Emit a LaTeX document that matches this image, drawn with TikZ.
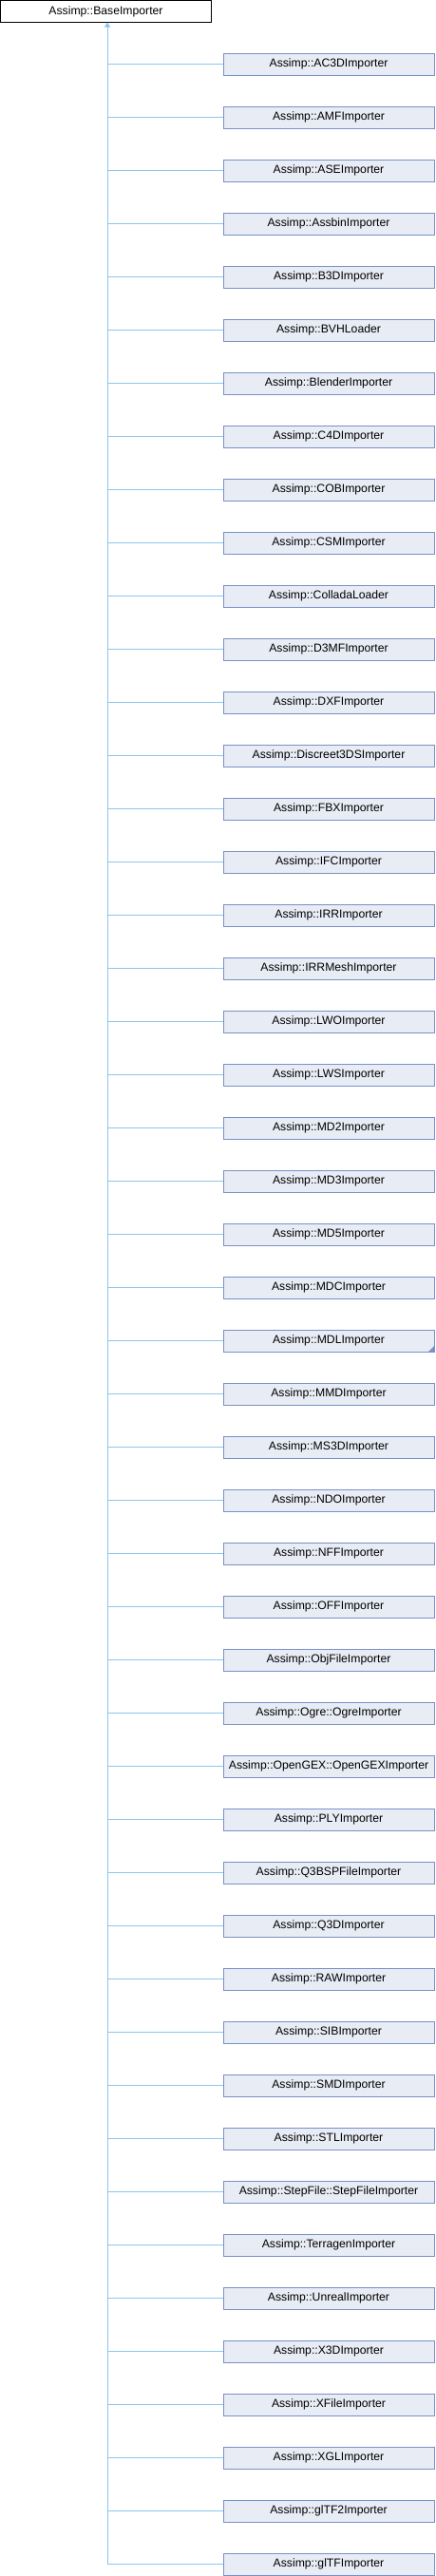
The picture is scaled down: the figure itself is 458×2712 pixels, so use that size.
\documentclass[tikz,border=0pt]{standalone}
\usepackage{fontspec}
\setmainfont{Liberation Sans}
\usetikzlibrary{positioning,arrows.meta}
\definecolor{classfill}{HTML}{E8ECF5}
\definecolor{classline}{HTML}{7A90C8}
\definecolor{inherit}{HTML}{8EC6EA}
\begin{document}
\begin{tikzpicture}[
            x=1pt,y=-1pt,
            base/.style={draw=black,fill=white,line width=1pt,minimum width=222pt,minimum height=23pt,inner sep=0pt,outer sep=0pt,font=\fontsize{12.2}{14}\selectfont},
            derived/.style={draw=classline,fill=classfill,line width=1pt,minimum width=222pt,minimum height=23pt,inner sep=0pt,outer sep=0pt,font=\fontsize{12.2}{14}\selectfont},
            next/.style={below=33pt of #1},
            link/.style={draw=inherit,line width=1pt}
        ]
        \useasboundingbox (0,0) rectangle (458,2712);
        \node[base] (baseimp) at (111.5,12) {Assimp::BaseImporter};
        \coordinate (trunk) at (113,0);
        % derived importers, one below the other
        \node[derived] (ac3d) at (346,67.5) {Assimp::AC3DImporter};
        \node[derived,next=ac3d] (amf) {Assimp::AMFImporter};
        \node[derived,next=amf] (ase) {Assimp::ASEImporter};
        \node[derived,next=ase] (assbin) {Assimp::AssbinImporter};
        \node[derived,next=assbin] (b3d) {Assimp::B3DImporter};
        \node[derived,next=b3d] (bvh) {Assimp::BVHLoader};
        \node[derived,next=bvh] (blender) {Assimp::BlenderImporter};
        \node[derived,next=blender] (c4d) {Assimp::C4DImporter};
        \node[derived,next=c4d] (cob) {Assimp::COBImporter};
        \node[derived,next=cob] (csm) {Assimp::CSMImporter};
        \node[derived,next=csm] (collada) {Assimp::ColladaLoader};
        \node[derived,next=collada] (d3mf) {Assimp::D3MFImporter};
        \node[derived,next=d3mf] (dxf) {Assimp::DXFImporter};
        \node[derived,next=dxf] (discreet) {Assimp::Discreet3DSImporter};
        \node[derived,next=discreet] (fbx) {Assimp::FBXImporter};
        \node[derived,next=fbx] (ifc) {Assimp::IFCImporter};
        \node[derived,next=ifc] (irr) {Assimp::IRRImporter};
        \node[derived,next=irr] (irrmesh) {Assimp::IRRMeshImporter};
        \node[derived,next=irrmesh] (lwo) {Assimp::LWOImporter};
        \node[derived,next=lwo] (lws) {Assimp::LWSImporter};
        \node[derived,next=lws] (md2) {Assimp::MD2Importer};
        \node[derived,next=md2] (md3) {Assimp::MD3Importer};
        \node[derived,next=md3] (md5) {Assimp::MD5Importer};
        \node[derived,next=md5] (mdc) {Assimp::MDCImporter};
        \node[derived,next=mdc] (mdl) {Assimp::MDLImporter};
        \node[derived,next=mdl] (mmd) {Assimp::MMDImporter};
        \node[derived,next=mmd] (ms3d) {Assimp::MS3DImporter};
        \node[derived,next=ms3d] (ndo) {Assimp::NDOImporter};
        \node[derived,next=ndo] (nff) {Assimp::NFFImporter};
        \node[derived,next=nff] (off) {Assimp::OFFImporter};
        \node[derived,next=off] (objfile) {Assimp::ObjFileImporter};
        \node[derived,next=objfile] (ogre) {Assimp::Ogre::OgreImporter};
        \node[derived,next=ogre] (opengex) {Assimp::OpenGEX::OpenGEXImporter};
        \node[derived,next=opengex] (ply) {Assimp::PLYImporter};
        \node[derived,next=ply] (q3bsp) {Assimp::Q3BSPFileImporter};
        \node[derived,next=q3bsp] (q3d) {Assimp::Q3DImporter};
        \node[derived,next=q3d] (raw) {Assimp::RAWImporter};
        \node[derived,next=raw] (sib) {Assimp::SIBImporter};
        \node[derived,next=sib] (smd) {Assimp::SMDImporter};
        \node[derived,next=smd] (stl) {Assimp::STLImporter};
        \node[derived,next=stl] (stepfile) {Assimp::StepFile::StepFileImporter};
        \node[derived,next=stepfile] (terragen) {Assimp::TerragenImporter};
        \node[derived,next=terragen] (unreal) {Assimp::UnrealImporter};
        \node[derived,next=unreal] (x3d) {Assimp::X3DImporter};
        \node[derived,next=x3d] (xfile) {Assimp::XFileImporter};
        \node[derived,next=xfile] (xgl) {Assimp::XGLImporter};
        \node[derived,next=xgl] (gltf2) {Assimp::glTF2Importer};
        \node[derived,next=gltf2] (gltf) {Assimp::glTFImporter};
        % marker in the corner of the MDL box
        \fill[classline] (mdl.south east) -- ++(0,-6) -- ++(-6,6) -- cycle;
        % inheritance lines
        \draw[link,-{Triangle[width=6pt,length=5pt]}] (trunk |- gltf.west) -- (trunk |- baseimp.south);
        \draw[link] (trunk |- ac3d.west) -- (ac3d.west);
        \draw[link] (trunk |- amf.west) -- (amf.west);
        \draw[link] (trunk |- ase.west) -- (ase.west);
        \draw[link] (trunk |- assbin.west) -- (assbin.west);
        \draw[link] (trunk |- b3d.west) -- (b3d.west);
        \draw[link] (trunk |- bvh.west) -- (bvh.west);
        \draw[link] (trunk |- blender.west) -- (blender.west);
        \draw[link] (trunk |- c4d.west) -- (c4d.west);
        \draw[link] (trunk |- cob.west) -- (cob.west);
        \draw[link] (trunk |- csm.west) -- (csm.west);
        \draw[link] (trunk |- collada.west) -- (collada.west);
        \draw[link] (trunk |- d3mf.west) -- (d3mf.west);
        \draw[link] (trunk |- dxf.west) -- (dxf.west);
        \draw[link] (trunk |- discreet.west) -- (discreet.west);
        \draw[link] (trunk |- fbx.west) -- (fbx.west);
        \draw[link] (trunk |- ifc.west) -- (ifc.west);
        \draw[link] (trunk |- irr.west) -- (irr.west);
        \draw[link] (trunk |- irrmesh.west) -- (irrmesh.west);
        \draw[link] (trunk |- lwo.west) -- (lwo.west);
        \draw[link] (trunk |- lws.west) -- (lws.west);
        \draw[link] (trunk |- md2.west) -- (md2.west);
        \draw[link] (trunk |- md3.west) -- (md3.west);
        \draw[link] (trunk |- md5.west) -- (md5.west);
        \draw[link] (trunk |- mdc.west) -- (mdc.west);
        \draw[link] (trunk |- mdl.west) -- (mdl.west);
        \draw[link] (trunk |- mmd.west) -- (mmd.west);
        \draw[link] (trunk |- ms3d.west) -- (ms3d.west);
        \draw[link] (trunk |- ndo.west) -- (ndo.west);
        \draw[link] (trunk |- nff.west) -- (nff.west);
        \draw[link] (trunk |- off.west) -- (off.west);
        \draw[link] (trunk |- objfile.west) -- (objfile.west);
        \draw[link] (trunk |- ogre.west) -- (ogre.west);
        \draw[link] (trunk |- opengex.west) -- (opengex.west);
        \draw[link] (trunk |- ply.west) -- (ply.west);
        \draw[link] (trunk |- q3bsp.west) -- (q3bsp.west);
        \draw[link] (trunk |- q3d.west) -- (q3d.west);
        \draw[link] (trunk |- raw.west) -- (raw.west);
        \draw[link] (trunk |- sib.west) -- (sib.west);
        \draw[link] (trunk |- smd.west) -- (smd.west);
        \draw[link] (trunk |- stl.west) -- (stl.west);
        \draw[link] (trunk |- stepfile.west) -- (stepfile.west);
        \draw[link] (trunk |- terragen.west) -- (terragen.west);
        \draw[link] (trunk |- unreal.west) -- (unreal.west);
        \draw[link] (trunk |- x3d.west) -- (x3d.west);
        \draw[link] (trunk |- xfile.west) -- (xfile.west);
        \draw[link] (trunk |- xgl.west) -- (xgl.west);
        \draw[link] (trunk |- gltf2.west) -- (gltf2.west);
        \draw[link] (trunk |- gltf.west) -- (gltf.west);
    \end{tikzpicture}
\end{document}
